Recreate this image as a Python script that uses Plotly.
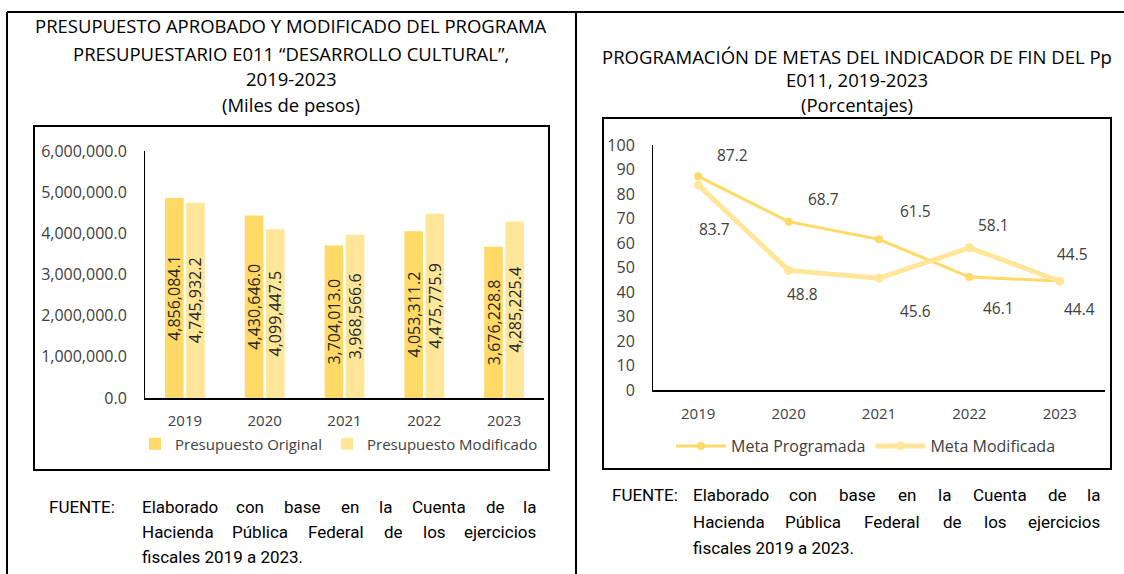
import plotly.graph_objects as go

# ---------------- data ----------------
years = ["2019", "2020", "2021", "2022", "2023"]
presupuesto_original = [4856084.1, 4430646.0, 3704013.0, 4053311.2, 3676228.8]
presupuesto_modificado = [4745932.2, 4099447.5, 3968566.6, 4475775.9, 4285225.4]
meta_programada = [87.2, 68.7, 61.5, 46.1, 44.5]
meta_modificada = [83.7, 48.8, 45.6, 58.1, 44.4]
y1_ticks = [0, 1000000, 2000000, 3000000, 4000000, 5000000, 6000000]
y2_ticks = [0, 10, 20, 30, 40, 50, 60, 70, 80, 90, 100]

title_left = ["PRESUPUESTO APROBADO Y MODIFICADO DEL PROGRAMA",
              "PRESUPUESTARIO E011 \u201cDESARROLLO CULTURAL\u201d,",
              "2019-2023", "(Miles de pesos)"]
title_right = ["PROGRAMACI\u00d3N DE METAS DEL INDICADOR DE FIN DEL Pp",
               "E011, 2019-2023", "(Porcentajes)"]
fuente_lines = ["Elaborado con base en la Cuenta de la",
                "Hacienda P\u00fablica Federal de los ejercicios",
                "fiscales 2019 a 2023."]

# label offsets (pixels) for the line chart data labels (layout only)
prog_off = [(34, 21), (35, 23), (36, 28), (29, -31), (13, 27)]
mod_off = [(16, -44), (14, -24), (36, -33), (24, 23), (20, -28)]

W, H = 1124, 574
FONT = "'Open Sans', Lato, sans-serif"
NOTE_FONT = "Roboto, 'Open Sans', sans-serif"
C_ORIG = "#FFD966"
C_MOD = "#FFE699"
TXT = "#404040"


def X(px):
    return px / W


def Y(py):
    return 1 - py / H


fig = go.Figure()

for vals, nm, col in [(presupuesto_original, "Presupuesto Original", C_ORIG),
                      (presupuesto_modificado, "Presupuesto Modificado", C_MOD)]:
    fig.add_trace(go.Bar(
        x=years, y=vals, name=nm,
        marker=dict(color=col, line=dict(width=0)),
        texttemplate="%{y:,.1f}", textposition="inside", insidetextanchor="middle",
        textangle=-90, constraintext="none",
        textfont=dict(family=FONT, size=16, color="#262626"),
        xaxis="x", yaxis="y", legend="legend", hoverinfo="skip"))

fig.add_trace(go.Scatter(
    x=years, y=meta_programada, name="Meta Programada", mode="lines+markers",
    line=dict(color=C_ORIG, width=3), marker=dict(size=8, color=C_ORIG),
    xaxis="x2", yaxis="y2", legend="legend2", hoverinfo="skip"))
fig.add_trace(go.Scatter(
    x=years, y=meta_modificada, name="Meta Modificada", mode="lines+markers",
    line=dict(color=C_MOD, width=5), marker=dict(size=9, color=C_MOD),
    xaxis="x2", yaxis="y2", legend="legend2", hoverinfo="skip"))

annotations = []
for series, offs in [(meta_programada, prog_off), (meta_modificada, mod_off)]:
    for i, (v, (dx, dy)) in enumerate(zip(series, offs)):
        annotations.append(dict(x=i, y=v, xref="x2", yref="y2", text=f"{v:.1f}",
                                showarrow=False, xshift=dx, yshift=dy,
                                font=dict(family=FONT, size=15.5, color=TXT)))

# titles
for t, py in zip(title_left, [26, 53, 79, 104]):
    annotations.append(dict(x=X(291), y=Y(py), xref="paper", yref="paper",
                            text=t, showarrow=False, xanchor="center", yanchor="middle",
                            font=dict(family=FONT, size=18.5, color="#000")))
for t, py in zip(title_right, [57, 80, 104]):
    annotations.append(dict(x=X(857), y=Y(py), xref="paper", yref="paper",
                            text=t, showarrow=False, xanchor="center", yanchor="middle",
                            font=dict(family=FONT, size=18.5, color="#000")))

# approximate Roboto advance widths (em) for justified footnote text
RW = {"a": .543, "b": .561, "c": .523, "d": .563, "e": .530, "f": .347, "g": .561,
      "h": .551, "i": .243, "j": .239, "k": .507, "l": .243, "m": .876, "n": .552,
      "o": .570, "p": .561, "r": .338, "s": .516, "t": .327, "u": .551, "\u00fa": .551,
      "C": .652, "E": .568, "F": .553, "H": .713, "P": .631, ".": .263, " ": .248}

FS_NOTE = 17


def add_justified(line, x0, x1, py, justify, fs=FS_NOTE):
    words = line.split(" ")
    if not justify:
        annotations.append(dict(x=X(x0), y=Y(py), xref="paper", yref="paper", text=line,
                                showarrow=False, xanchor="left", yanchor="middle",
                                font=dict(family=NOTE_FONT, size=fs, color="#000")))
        return
    widths = [sum(RW.get(c, .56) * fs for c in w) for w in words]
    gap = ((x1 - x0) - sum(widths)) / (len(words) - 1)
    cur = x0
    for k, (w, wd) in enumerate(zip(words, widths)):
        if k == 0:
            xa, xp = "left", x0
        elif k == len(words) - 1:
            xa, xp = "right", x1
        else:
            xa, xp = "center", cur + wd / 2
        annotations.append(dict(x=X(xp), y=Y(py), xref="paper", yref="paper", text=w,
                                showarrow=False, xanchor=xa, yanchor="middle",
                                font=dict(family=NOTE_FONT, size=fs, color="#000")))
        cur += wd + gap


annotations.append(dict(x=X(47), y=Y(507), xref="paper", yref="paper", text="FUENTE:",
                        showarrow=False, xanchor="left", yanchor="middle",
                        font=dict(family=NOTE_FONT, size=FS_NOTE, color="#000")))
for i, (ln, py) in enumerate(zip(fuente_lines, [507, 532, 557])):
    add_justified(ln, 140, 538, py, i < 2)
annotations.append(dict(x=X(610), y=Y(495), xref="paper", yref="paper", text="FUENTE:",
                        showarrow=False, xanchor="left", yanchor="middle",
                        font=dict(family=NOTE_FONT, size=FS_NOTE, color="#000")))
for i, (ln, py) in enumerate(zip(fuente_lines, [495, 522, 548])):
    add_justified(ln, 691, 1102, py, i < 2)

# frame lines and chart boxes
shapes = [
    dict(type="line", xref="paper", yref="paper", x0=X(7), x1=1, y0=Y(12), y1=Y(12),
         line=dict(color="#000", width=2)),
    dict(type="line", xref="paper", yref="paper", x0=X(7), x1=X(7), y0=Y(12), y1=0,
         line=dict(color="#000", width=2)),
    dict(type="line", xref="paper", yref="paper", x0=X(576), x1=X(576), y0=Y(12), y1=0,
         line=dict(color="#000", width=2)),
    dict(type="rect", xref="paper", yref="paper", x0=X(34), x1=X(549), y0=Y(470), y1=Y(126),
         line=dict(color="#000", width=2), layer="below"),
    dict(type="rect", xref="paper", yref="paper", x0=X(603), x1=X(1111), y0=Y(469), y1=Y(118),
         line=dict(color="#000", width=2), layer="below"),
]

axis_font = dict(family=FONT, size=16, color=TXT)
xtick_font = dict(family=FONT, size=15, color=TXT)

fig.update_layout(
    width=W, height=H, margin=dict(l=0, r=0, t=0, b=0, autoexpand=False),
    paper_bgcolor="white", plot_bgcolor="rgba(0,0,0,0)",
    barmode="group", bargap=0.47, bargroupgap=0.12,
    showlegend=True,
    xaxis=dict(domain=[X(145), X(544)], type="category", range=[-0.5, 4.5],
               showgrid=False, showline=True, linecolor="#000", linewidth=2, ticks="",
               tickfont=xtick_font, anchor="y", ticklabelstandoff=8, automargin=False),
    yaxis=dict(domain=[Y(398), Y(151)], range=[0, 6000000], tickvals=y1_ticks,
               tickformat=",.1f", showgrid=False, zeroline=False,
               showline=True, linecolor="#000", linewidth=1, ticks="",
               tickfont=axis_font, anchor="x", ticklabelstandoff=14, automargin=False),
    xaxis2=dict(domain=[X(653), X(1105)], type="category", range=[-0.5, 4.5],
                showgrid=False, showline=True, linecolor="#000", linewidth=2, ticks="",
                tickfont=xtick_font, anchor="y2", ticklabelstandoff=9, automargin=False),
    yaxis2=dict(domain=[Y(390), Y(145)], range=[0, 100], tickvals=y2_ticks,
                showgrid=False, zeroline=False,
                showline=True, linecolor="#000", linewidth=1, ticks="",
                tickfont=axis_font, anchor="x2", ticklabelstandoff=14, automargin=False),
    legend=dict(orientation="h", x=X(339), y=Y(444), xanchor="center", yanchor="middle",
                font=dict(family=FONT, size=15, color=TXT), bgcolor="rgba(0,0,0,0)",
                itemwidth=30, tracegroupgap=0),
    legend2=dict(orientation="h", x=X(866), y=Y(446), xanchor="center", yanchor="middle",
                 font=dict(family=FONT, size=16, color=TXT), bgcolor="rgba(0,0,0,0)",
                 itemwidth=50),
    annotations=annotations, shapes=shapes,
)

fig.write_html("out.html", config={"displayModeBar": False},
               post_script="document.body.style.margin='0';document.body.style.overflow='hidden';")
